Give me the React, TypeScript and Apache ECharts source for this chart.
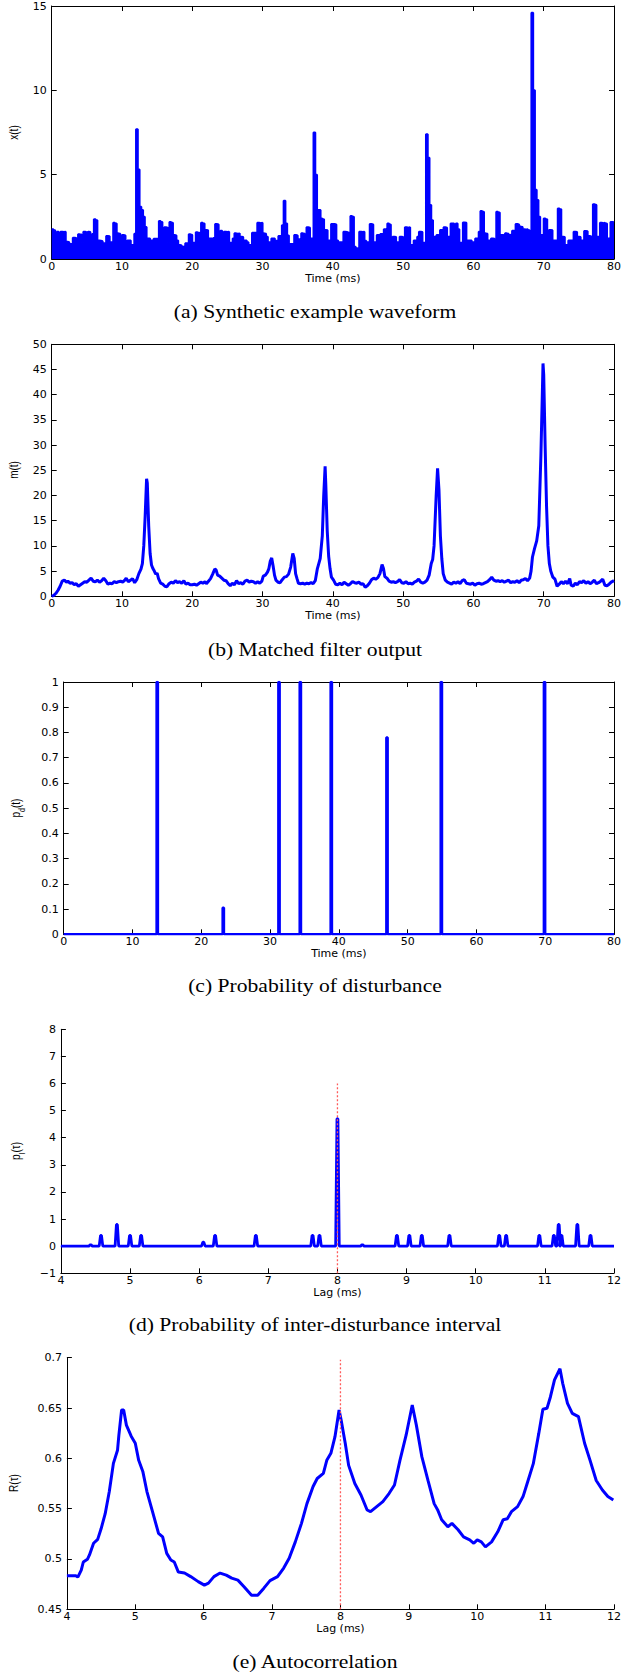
import React, { useEffect, useRef } from "react";
import * as echarts from "echarts";

// ---------- DATA ----------
// (a) synthetic waveform x(t), sampled every 0.25 ms from 0 ms (step values)
const waveStep = 0.25;
const waveValues = [
  1.76, 1.7, 1.22, 1.62, 1.05, 1.62, 1.6, 1.62, 1.03, 1.0, 0.89, 0.9, 1.26, 1.24, 1.1, 1.46, 1.45, 1.0, 1.62, 1.58,
  1.62, 1.6, 1.1, 1.48, 2.35, 2.3, 1.1, 1.08, 1.05, 0.93, 0.95, 1.36, 1.35, 1.0, 1.0, 2.15, 2.1, 1.52, 1.5, 1.1,
  1.42, 1.4, 0.83, 1.1, 1.1, 0.83, 0.85, 1.5, 7.7, 5.3, 3.1, 2.9, 2.5, 1.9, 1.22, 1.22, 1.1, 1.1, 1.2, 1.2,
  1.2, 2.25, 2.2, 1.3, 1.88, 1.85, 1.0, 2.2, 2.15, 1.42, 1.4, 1.1, 0.83, 0.8, 0.73, 0.75, 0.93, 0.9, 1.46, 1.42,
  0.97, 0.97, 1.58, 1.55, 1.58, 2.15, 2.1, 1.72, 1.7, 1.22, 1.22, 1.2, 1.25, 2.07, 2.05, 1.1, 1.68, 1.0, 1.62, 1.6,
  1.62, 0.97, 0.97, 1.22, 1.52, 1.5, 1.52, 1.32, 1.3, 1.1, 1.1, 1.0, 0.83, 0.85, 1.56, 1.55, 1.56, 2.15, 2.12, 2.15,
  1.52, 1.5, 1.32, 1.0, 1.0, 1.22, 1.22, 1.08, 1.08, 1.36, 1.36, 2.0, 3.46, 2.1, 1.4, 0.89, 0.89, 0.9, 1.42, 1.4,
  1.17, 1.15, 1.52, 1.5, 1.32, 1.88, 1.85, 1.22, 1.22, 7.5, 5.0, 2.9, 2.9, 2.4, 2.35, 1.72, 1.7, 1.1, 1.1, 2.07,
  2.07, 2.05, 1.1, 1.0, 1.0, 1.0, 1.62, 1.6, 1.56, 1.55, 2.55, 2.5, 0.73, 0.63, 0.65, 1.62, 1.6, 1.62, 1.08, 1.0,
  1.0, 2.07, 2.05, 1.0, 1.0, 1.42, 1.4, 1.48, 1.48, 1.76, 1.75, 2.1, 2.05, 1.22, 1.32, 1.3, 1.0, 1.0, 1.32, 1.3,
  0.93, 1.88, 1.85, 1.88, 0.83, 0.85, 1.1, 1.1, 1.32, 1.62, 1.6, 0.97, 0.97, 7.4, 6.0, 3.2, 2.3, 1.32, 1.3, 1.42,
  1.4, 1.72, 1.7, 1.88, 1.85, 1.32, 1.3, 2.1, 2.1, 2.05, 2.1, 1.76, 0.97, 0.97, 2.17, 2.15, 1.1, 1.1, 1.1, 1.0,
  1.0, 1.22, 1.22, 1.62, 2.85, 2.8, 1.52, 1.5, 1.1, 1.1, 1.22, 1.2, 1.1, 2.8, 2.75, 1.42, 1.42, 1.4, 1.52, 1.5,
  1.42, 1.45, 1.68, 1.65, 2.07, 2.05, 1.92, 1.9, 1.76, 1.75, 1.76, 1.7, 1.0, 14.6, 10.0, 4.1, 3.5, 2.5, 1.42, 1.42,
  2.4, 2.35, 1.32, 1.72, 1.7, 1.1, 1.1, 1.1, 3.0, 2.95, 1.32, 1.3, 0.83, 0.85, 1.1, 1.1, 1.1, 1.62, 1.6, 1.32,
  1.3, 1.1, 1.1, 1.66, 1.65, 1.36, 1.35, 0.97, 3.24, 3.2, 1.32, 1.3, 2.15, 2.12, 2.15, 2.1, 1.22, 1.2, 2.2, 2.18,
];

// (b) matched filter output m(t): [time ms, value]
const matchedFilter: [number, number][] = [
  [0, 0], [0.3, 0.2], [0.6, 0.6], [0.9, 1.2], [1.2, 2.0], [1.5, 3.0], [1.8, 3.2], [2.1, 2.8], [2.3, 3.0], [2.6, 2.6],
  [2.9, 2.7], [3.2, 2.3], [3.5, 2.5], [3.8, 2.0], [4.1, 2.3], [4.4, 2.6], [4.7, 2.9], [5.0, 2.8], [5.3, 3.2], [5.6, 3.6],
  [5.9, 3.0], [6.2, 2.9], [6.5, 3.2], [6.8, 2.8], [7.1, 3.1], [7.4, 3.6], [7.7, 3.1], [8.0, 2.4], [8.3, 2.6], [8.6, 2.5],
  [8.9, 2.9], [9.2, 2.7], [9.5, 2.9], [9.8, 3.0], [10.1, 2.8], [10.4, 3.2], [10.6, 3.6], [10.9, 2.9], [11.2, 3.2], [11.5, 3.5],
  [11.8, 2.7], [12.1, 3.3], [12.4, 4.5], [12.7, 5.4], [12.9, 6.5], [13.1, 10.0], [13.3, 16], [13.5, 23.3], [13.6, 22.5], [13.8, 14],
  [14.0, 8.5], [14.2, 6.2], [14.4, 5.5], [14.6, 5.0], [14.8, 4.4], [15.0, 4.6], [15.2, 3.5], [15.5, 2.6], [15.8, 2.4], [16.1, 2.0],
  [16.4, 1.9], [16.7, 2.5], [17.0, 2.8], [17.3, 2.6], [17.6, 3.1], [17.9, 2.7], [18.2, 2.9], [18.5, 2.6], [18.8, 3.1], [19.1, 2.4],
  [19.4, 2.6], [19.7, 2.3], [20.0, 2.3], [20.3, 2.4], [20.6, 2.2], [20.9, 2.5], [21.2, 2.8], [21.5, 2.6], [21.8, 2.9], [22.0, 2.5],
  [22.3, 3.0], [22.6, 3.5], [22.9, 4.4], [23.2, 5.4], [23.4, 5.2], [23.6, 4.2], [23.9, 4.0], [24.2, 3.6], [24.5, 3.2], [24.8, 3.1],
  [25.1, 2.5], [25.4, 2.1], [25.7, 2.6], [26.0, 2.3], [26.3, 3.1], [26.6, 2.5], [26.9, 2.7], [27.2, 2.4], [27.5, 3.0], [27.8, 3.2],
  [28.1, 2.8], [28.4, 3.0], [28.7, 2.9], [29.0, 2.6], [29.3, 2.9], [29.6, 2.6], [29.9, 3.0], [30.1, 4.0], [30.4, 4.2], [30.7, 4.8],
  [30.9, 5.5], [31.1, 7.0], [31.3, 7.6], [31.5, 6.0], [31.7, 4.2], [31.9, 3.2], [32.2, 2.8], [32.5, 2.7], [32.8, 3.3], [33.1, 3.8],
  [33.4, 3.9], [33.7, 4.4], [34.0, 5.8], [34.3, 8.5], [34.5, 7.5], [34.7, 4.5], [34.9, 3.5], [35.1, 2.6], [35.4, 2.5], [35.7, 2.6],
  [36.0, 2.4], [36.3, 2.6], [36.6, 2.5], [36.9, 2.7], [37.2, 2.5], [37.5, 3.1], [37.8, 5.5], [38.0, 6.5], [38.2, 7.5], [38.5, 12],
  [38.7, 20], [38.9, 25.8], [39.0, 22], [39.2, 13], [39.4, 8.0], [39.6, 5.5], [39.8, 3.8], [40.1, 3.2], [40.4, 2.4], [40.7, 2.3],
  [41.0, 2.6], [41.3, 2.3], [41.6, 2.8], [41.9, 2.5], [42.2, 2.2], [42.5, 2.5], [42.8, 2.9], [43.1, 2.7], [43.4, 2.6], [43.7, 2.8],
  [44.0, 2.4], [44.3, 2.5], [44.6, 1.8], [44.9, 2.1], [45.2, 2.6], [45.5, 3.3], [45.8, 3.6], [46.1, 3.4], [46.4, 3.7], [46.7, 4.5],
  [47.0, 6.3], [47.2, 5.5], [47.4, 3.9], [47.7, 3.6], [48.0, 3.0], [48.3, 2.8], [48.6, 2.9], [48.9, 2.7], [49.2, 2.9], [49.5, 3.3],
  [49.8, 2.7], [50.1, 2.6], [50.4, 2.9], [50.7, 2.5], [51.0, 2.6], [51.3, 2.4], [51.6, 2.8], [51.9, 3.0], [52.2, 3.4], [52.5, 2.8],
  [52.8, 2.6], [53.1, 2.8], [53.4, 3.2], [53.7, 4.2], [54.0, 6.5], [54.2, 7.3], [54.4, 10], [54.7, 20], [54.9, 25.4], [55.1, 21],
  [55.3, 12], [55.5, 7.5], [55.7, 4.5], [56.0, 3.2], [56.3, 2.8], [56.6, 2.6], [56.9, 2.4], [57.2, 2.8], [57.5, 2.6], [57.8, 2.9],
  [58.1, 2.5], [58.4, 3.1], [58.7, 3.3], [59.0, 2.6], [59.3, 2.5], [59.6, 2.4], [59.9, 2.6], [60.2, 2.2], [60.5, 2.5], [60.8, 2.6],
  [61.1, 2.4], [61.4, 2.5], [61.7, 2.7], [62.0, 2.9], [62.3, 3.3], [62.6, 3.8], [62.9, 3.2], [63.2, 3.0], [63.5, 3.1], [63.8, 2.9],
  [64.1, 3.1], [64.4, 2.8], [64.7, 3.0], [65.0, 3.2], [65.3, 2.7], [65.6, 2.9], [65.9, 2.8], [66.2, 3.1], [66.5, 2.7], [66.8, 3.2],
  [67.1, 3.3], [67.4, 3.5], [67.7, 3.1], [68.0, 3.6], [68.2, 5.0], [68.4, 7.8], [68.7, 9.5], [69.0, 11.0], [69.3, 14], [69.6, 28],
  [69.8, 40], [69.9, 46.2], [70.0, 44], [70.2, 30], [70.4, 18], [70.6, 10], [70.8, 6.5], [71.0, 5.0], [71.3, 3.8], [71.6, 3.4],
  [71.9, 2.0], [72.2, 2.4], [72.5, 2.9], [72.8, 2.5], [73.1, 3.0], [73.4, 2.5], [73.7, 3.5], [73.9, 2.2], [74.2, 2.0], [74.5, 2.6],
  [74.8, 2.3], [75.1, 2.9], [75.4, 2.7], [75.7, 3.1], [76.0, 2.6], [76.3, 2.9], [76.6, 2.5], [76.9, 2.8], [77.2, 3.2], [77.5, 2.5],
  [77.8, 2.7], [78.1, 3.0], [78.4, 3.4], [78.7, 2.2], [79.0, 2.1], [79.3, 2.4], [79.6, 2.8], [80.0, 3.1],
];

// (c) probability of disturbance impulses
const pdTimes = [13.6, 23.2, 31.3, 34.4, 38.9, 47.0, 54.9, 69.9];
const pdValues = [1, 0.105, 1, 1, 1, 0.78, 1, 1];

// (d) inter-disturbance interval probability bumps
const lagTimes = [4.43, 4.58, 4.81, 5.0, 5.16, 6.06, 6.23, 6.82, 7.64, 7.74, 8.0, 8.36, 8.86, 9.04, 9.22, 9.62, 10.34, 10.44, 10.92, 11.13, 11.2, 11.24, 11.47, 11.66];
const lagValues = [0.05, 0.4, 0.8, 0.4, 0.4, 0.15, 0.4, 0.4, 0.4, 0.4, 4.7, 0.05, 0.4, 0.4, 0.4, 0.4, 0.4, 0.4, 0.4, 0.4, 0.8, 0.4, 0.8, 0.4];
const markerLag = 8;

// (e) autocorrelation R(tau)
const autocorr: [number, number][] = [
  [4.0, 0.4834], [4.13, 0.4834], [4.16, 0.482], [4.21, 0.489], [4.24, 0.497], [4.30, 0.4997], [4.33, 0.504], [4.39, 0.5156], [4.45, 0.5195], [4.50, 0.530],
  [4.56, 0.545], [4.62, 0.567], [4.68, 0.595], [4.74, 0.608], [4.76, 0.623], [4.80, 0.648], [4.83, 0.648], [4.87, 0.633], [4.94, 0.622], [5.0, 0.615],
  [5.05, 0.598], [5.11, 0.587], [5.17, 0.567], [5.26, 0.545], [5.34, 0.5255], [5.40, 0.522], [5.46, 0.5056], [5.52, 0.499], [5.57, 0.497], [5.63, 0.487],
  [5.72, 0.486], [5.81, 0.4825], [5.92, 0.4775], [6.01, 0.474], [6.07, 0.476], [6.15, 0.4825], [6.24, 0.486], [6.33, 0.484], [6.41, 0.481], [6.50, 0.479],
  [6.59, 0.4725], [6.70, 0.464], [6.79, 0.464], [6.88, 0.471], [6.97, 0.4785], [7.08, 0.4825], [7.17, 0.491], [7.25, 0.5007], [7.34, 0.517], [7.43, 0.5354],
  [7.51, 0.555], [7.60, 0.572], [7.66, 0.580], [7.75, 0.585], [7.80, 0.598], [7.86, 0.605], [7.92, 0.6215], [7.98, 0.648], [8.01, 0.638], [8.07, 0.615],
  [8.12, 0.593], [8.21, 0.575], [8.30, 0.5636], [8.39, 0.5487], [8.44, 0.547], [8.53, 0.552], [8.62, 0.557], [8.71, 0.565], [8.79, 0.5735], [8.87, 0.598],
  [8.96, 0.623], [9.05, 0.653], [9.11, 0.633], [9.19, 0.6017], [9.28, 0.578], [9.37, 0.555], [9.42, 0.549], [9.48, 0.539], [9.57, 0.532], [9.63, 0.5354],
  [9.72, 0.529], [9.80, 0.522], [9.89, 0.519], [9.95, 0.5156], [10.0, 0.519], [10.06, 0.517], [10.12, 0.512], [10.21, 0.517], [10.30, 0.527], [10.38, 0.539],
  [10.44, 0.540], [10.50, 0.547], [10.59, 0.552], [10.67, 0.562], [10.73, 0.575], [10.82, 0.5947], [10.90, 0.6248], [10.96, 0.6487], [11.02, 0.6497], [11.07, 0.661],
  [11.13, 0.678], [11.21, 0.689], [11.25, 0.6745], [11.32, 0.6546], [11.39, 0.6447], [11.48, 0.6414], [11.57, 0.615], [11.65, 0.598], [11.74, 0.578], [11.83, 0.5685],
  [11.91, 0.562], [11.99, 0.5586],
];

const captions = [
  "(a) Synthetic example waveform",
  "(b) Matched filter output",
  "(c) Probability of disturbance",
  "(d) Probability of inter-disturbance interval",
  "(e) Autocorrelation",
];

// ---------- STYLE / LAYOUT ----------
const BLUE = "#0000ff";
const RED = "#ff5a5a";
const TICK_FONT = { color: "#000", fontFamily: "DejaVu Sans", fontSize: 11 };

const grids = [
  { left: 51.7, top: 6, width: 565.9, height: 253 },
  { left: 51.7, top: 344.3, width: 565.9, height: 252 },
  { left: 63.7, top: 682, width: 553.9, height: 252.3 },
  { left: 60.9, top: 1029.3, width: 555.1, height: 244 },
  { left: 66.9, top: 1357.7, width: 549.9, height: 251.6 },
];
const captionY = [311.7, 650, 986, 1325, 1662];

function xAx(gridIndex: number, min: number, max: number, interval: number, name: string, top = false): any {
  return {
    type: "value", gridIndex, min, max, interval,
    position: top ? "top" : "bottom",
    name: top ? "" : name, nameLocation: "middle", nameGap: 13,
    nameTextStyle: { ...TICK_FONT },
    axisLine: { show: true, onZero: false, lineStyle: { color: "#000", width: 1 } },
    axisTick: { show: true, inside: true, length: 5, lineStyle: { color: "#000", width: 1 } },
    axisLabel: { show: !top, ...TICK_FONT, margin: 2 },
    splitLine: { show: false },
  };
}
function yAx(gridIndex: number, min: number, max: number, interval: number, right = false, fmt?: any): any {
  return {
    type: "value", gridIndex, min, max, interval,
    position: right ? "right" : "left",
    axisLine: { show: true, onZero: false, lineStyle: { color: "#000", width: 1 } },
    axisTick: { show: true, inside: true, length: 5, lineStyle: { color: "#000", width: 1 } },
    axisLabel: { show: !right, ...TICK_FONT, margin: 5, formatter: fmt },
    splitLine: { show: false },
  };
}

function buildOption(): any {
  const waveData: [number, number][] = waveValues.map((v, i) => [i * waveStep, v]);
  waveData.push([80, waveValues[waveValues.length - 1]]);

  const pdData: [number, number][] = [[0, 0]];
  const half = 0.1;
  pdTimes.forEach((t, i) => {
    pdData.push([t - half, 0], [t - half, pdValues[i]], [t + half, pdValues[i]], [t + half, 0]);
  });
  pdData.push([80, 0]);

  const lagData: [number, number][] = [[4, 0]];
  lagTimes.forEach((t, i) => {
    lagData.push([t - 0.026, 0], [t - 0.007, lagValues[i]], [t + 0.007, lagValues[i]], [t + 0.026, 0]);
  });
  lagData.push([12, 0]);

  const minusFmt = (v: number) => (v < 0 ? "\u2212" + Math.abs(v) : String(v));

  const yName = (x: number, y: number, text: string, rich?: any) => ({
    type: "text", x, y, rotation: Math.PI / 2, scaleY: 1.3, silent: true,
    style: {
      text, fill: "#000", fontSize: 10, fontFamily: "Liberation Sans",
      align: "center", verticalAlign: "middle", textAlign: "center", textVerticalAlign: "middle",
      rich,
    },
  });
  const subRich = {
    n: { fontSize: 10, fontFamily: "Liberation Sans", fill: "#000" },
    s: { fontSize: 7, fontFamily: "Liberation Sans", fill: "#000", verticalAlign: "bottom", lineHeight: 17 },
  };

  const graphic: any[] = [
    yName(14, 132.5, "x(t)"),
    yName(14, 470, "m(t)"),
    yName(16, 808, "{n|p}{s|d}{n|(t)}", subRich),
    yName(16, 1151, "{n|p}{s|I}{n|(\u03c4)}", subRich),
    yName(14, 1483, "R(\u03c4)"),
    ...captions.map((c, i) => ({
      type: "text", x: 315, y: captionY[i], scaleX: 1.2, silent: true,
      style: {
        text: c, fill: "#000", fontSize: 18, fontFamily: "Liberation Serif",
        align: "center", verticalAlign: "middle", textAlign: "center", textVerticalAlign: "middle",
      },
    })),
  ];

  return {
    animation: false,
    backgroundColor: "#fff",
    grid: grids,
    xAxis: [
      xAx(0, 0, 80, 10, "Time (ms)"), xAx(0, 0, 80, 10, "", true),
      xAx(1, 0, 80, 10, "Time (ms)"), xAx(1, 0, 80, 10, "", true),
      xAx(2, 0, 80, 10, "Time (ms)"), xAx(2, 0, 80, 10, "", true),
      xAx(3, 4, 12, 1, "Lag (ms)"),
      xAx(4, 4, 12, 1, "Lag (ms)"),
    ],
    yAxis: [
      yAx(0, 0, 15, 5), yAx(0, 0, 15, 5, true),
      yAx(1, 0, 50, 5), yAx(1, 0, 50, 5, true),
      yAx(2, 0, 1, 0.1), yAx(2, 0, 1, 0.1, true),
      yAx(3, -1, 8, 1, false, minusFmt),
      yAx(4, 0.45, 0.7, 0.05),
    ],
    series: [
      {
        type: "line", xAxisIndex: 0, yAxisIndex: 0, data: waveData, step: "end", symbol: "none",
        lineStyle: { color: BLUE, width: 2 }, areaStyle: { color: BLUE, opacity: 1 }, silent: true,
      },
      {
        type: "line", xAxisIndex: 2, yAxisIndex: 2, data: matchedFilter, symbol: "none",
        lineStyle: { color: BLUE, width: 3 }, silent: true,
      },
      {
        type: "line", xAxisIndex: 4, yAxisIndex: 4, data: pdData, symbol: "none",
        lineStyle: { color: BLUE, width: 2.4 }, silent: true,
      },
      {
        type: "line", xAxisIndex: 6, yAxisIndex: 6, data: lagData, symbol: "none",
        lineStyle: { color: BLUE, width: 2.8 }, silent: true,
      },
      {
        type: "line", xAxisIndex: 6, yAxisIndex: 6, data: [[markerLag, -1], [markerLag, 6]], symbol: "none",
        lineStyle: { color: RED, width: 1.3, type: [2, 2] }, silent: true,
      },
      {
        type: "line", xAxisIndex: 7, yAxisIndex: 7, data: autocorr, symbol: "none",
        lineStyle: { color: BLUE, width: 3 }, silent: true,
      },
      {
        type: "line", xAxisIndex: 7, yAxisIndex: 7, data: [[markerLag, 0.45], [markerLag, 0.698]], symbol: "none",
        lineStyle: { color: RED, width: 1.3, type: [2, 2] }, silent: true,
      },
    ],
    graphic,
  };
}

export default function App() {
  const ref = useRef<HTMLDivElement>(null);
  useEffect(() => {
    document.body.style.margin = "0";
    const chart = echarts.init(ref.current!, null, { renderer: "svg" });
    chart.setOption(buildOption());
    return () => chart.dispose();
  }, []);
  return <div ref={ref} style={{ width: 624, height: 1674, position: "absolute", left: 0, top: 0, background: "#fff" }} />;
}
